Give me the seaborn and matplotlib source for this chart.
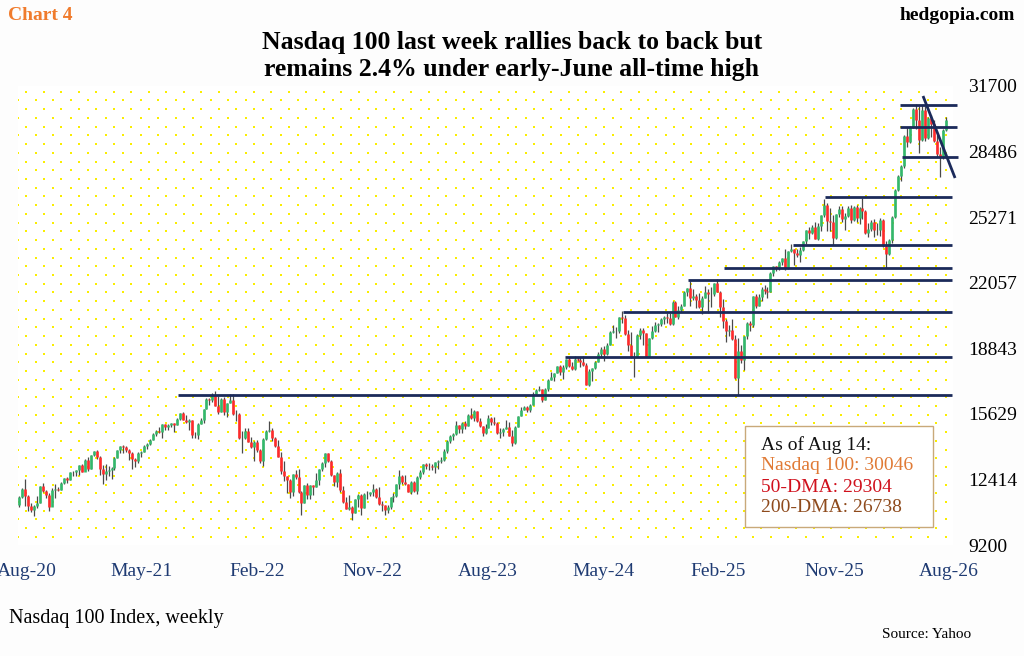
import numpy as np
import pandas as pd
import matplotlib
matplotlib.use("Agg")
import matplotlib.pyplot as plt
from matplotlib.patches import Rectangle
import seaborn as sns

# 周线数据: 2020-08-21 ~ 2026-08-14 (每周五收盘)
first_open = 11180

closes = [
    # 2020
    11530, 11940, 11620, 11090, 10940, 11130, 11250, 12090, 11850, 11670, 11050, 11900, 11940, 11880, 12260,
    12460, 12380, 12760, 12800,
    # 2021
    12890, 13100, 12800, 13370, 12920, 13590, 13810, 13530, 12910, 12670, 12820, 12870, 12960, 13480, 13850,
    14040, 13990, 13860, 13720, 13430, 13300, 13690, 13770, 14070, 14140, 14360, 14660, 14790, 14740, 15110,
    14960, 15100, 15160, 15100, 15380, 15650, 15350, 15230, 15310, 14570, 14580, 15140, 15340, 15850, 16350,
    16300, 16570, 16030, 15710, 16370, 15720, 16160, 16320,
    # 2022
    15600, 15610, 14440, 14450, 14800, 14260, 13990, 14250, 13840, 13300, 14420, 14810, 14860, 14450, 14050,
    13510, 12850, 12580, 12390, 11800, 12680, 12550, 11780, 11280, 12130, 11630, 12130, 12040, 12400, 12950,
    13210, 13700, 13330, 12610, 12270, 12750, 11880, 11310, 10970, 11040, 10760, 11450, 11670, 11000, 11700,
    11680, 11790, 11960, 11560, 11210, 11140, 10940,
    # 2023
    11040, 11540, 11620, 12170, 12570, 12300, 12190, 11800, 12300, 11830, 12520, 12770, 13180, 13060, 13080,
    13030, 13250, 13340, 13350, 13810, 14300, 14550, 14640, 15080, 14890, 15180, 15030, 15570, 15450, 15750,
    15270, 15020, 14690, 14940, 15430, 15210, 15200, 14700, 14720, 14890, 14990, 14540, 14180, 15000, 15530,
    15840, 15980, 15840, 16080, 16620, 16780, 16830,
    # 2024
    16310, 16830, 17310, 17420, 17640, 17960, 17690, 17940, 18300, 17960, 17810, 18340, 18250, 18150, 18000,
    17040, 17720, 17890, 18160, 18550, 18810, 18540, 19000, 19660, 19700, 19680, 20390, 20330, 19520, 19020,
    18440, 18410, 19510, 19720, 19570, 18420, 19360, 19690, 19980, 20030, 20270, 20360, 20350, 20030, 21120,
    20400, 20740, 20930, 21620, 21780, 21290, 21430,
    # 2025
    21210, 20850, 21320, 21590, 21480, 21490, 22030, 21610, 20880, 20200, 19700, 19750, 19280, 17400, 18690,
    18260, 19430, 20100, 19990, 21430, 20920, 21340, 21760, 21630, 21620, 22530, 22870, 22780, 23070, 23270,
    22760, 23600, 23710, 23500, 23420, 23650, 24090, 24630, 24500, 24790, 24220, 24820, 25360, 25860, 25060,
    25010, 24240, 25430, 25690, 25200, 25350, 25700,
    # 2026
    25150, 25780, 25250, 25700, 25550, 24500, 24700, 25050, 24620, 24650, 25150, 23850, 23450, 24150, 25300,
    26600, 27300, 27800, 29250, 28950, 29700, 30550, 30050, 29050, 30500, 29150, 30150, 29850, 29000, 28350,
    28200, 29550, 30046,
]

highs = [
    # 2020
    11600, 11980, 12440, 11630, 11250, 11180, 11600, 12110, 12250, 11900, 11740, 12000, 12190, 12020, 12280,
    12480, 12530, 12790, 12850,
    # 2021
    12900, 13130, 13150, 13420, 13500, 13600, 13820, 13880, 13550, 13100, 13170, 13070, 13030, 13510, 13860,
    14060, 14080, 14070, 13900, 13750, 13480, 13740, 13800, 14080, 14190, 14400, 14670, 14840, 14960, 15120,
    15140, 15130, 15180, 15170, 15420, 15660, 15700, 15560, 15380, 15330, 14740, 15170, 15440, 15870, 16400,
    16400, 16660, 16770, 16500, 16390, 16460, 16180, 16580,
    # 2022
    16600, 15800, 15650, 14800, 14920, 14950, 14500, 14300, 14350, 13930, 14430, 14830, 15260, 14930, 14500,
    14370, 13760, 13300, 12600, 12450, 12700, 12900, 12950, 11850, 12150, 12250, 12150, 12160, 12750, 12950,
    13270, 13700, 13720, 13350, 12650, 12760, 12940, 12100, 11570, 11640, 11100, 11460, 11690, 11680, 11750,
    11830, 11810, 12170, 11970, 12040, 11380, 11150,
    # 2023
    11150, 11560, 11750, 12200, 12880, 12620, 12640, 12200, 12320, 12360, 12590, 12860, 13190, 13210, 13200,
    13170, 13260, 13350, 13490, 13900, 14340, 14590, 14680, 15280, 15080, 15230, 15260, 15620, 15930, 15800,
    15760, 15450, 15050, 15140, 15580, 15460, 15470, 15250, 14920, 14950, 15310, 15220, 14830, 15010, 15540,
    15950, 16000, 16010, 16100, 16680, 16830, 16970,
    # 2024
    16840, 16890, 17330, 17660, 17650, 17980, 18010, 18040, 18310, 18420, 18150, 18460, 18420, 18410, 18460,
    18100, 17840, 17900, 18240, 18680, 18900, 18950, 19080, 19680, 19980, 19870, 20400, 20690, 20460, 19740,
    19630, 18640, 19520, 19820, 19820, 19600, 19370, 19930, 20110, 20100, 20320, 20420, 20550, 20550, 21150,
    21140, 20900, 20990, 21650, 21800, 22130, 21770,
    # 2025
    21500, 21550, 21400, 21910, 21760, 21850, 22050, 22220, 21630, 21270, 20270, 20000, 20290, 19500, 19350,
    19000, 19460, 20110, 20170, 21430, 21500, 21500, 21830, 21930, 21830, 22560, 22880, 22900, 23100, 23290,
    23700, 23620, 23960, 23720, 23700, 23800, 24100, 24640, 24780, 24900, 25050, 25000, 25380, 26180, 25950,
    25700, 25400, 25450, 25800, 25830, 25480, 25800,
    # 2026
    25850, 25800, 25880, 25780, 26200, 25600, 25000, 25150, 25200, 25000, 25250, 25200, 24100, 24200, 25350,
    26650, 27350, 27850, 29300, 29700, 29750, 30600, 30800, 30700, 30750, 30700, 30200, 30300, 30050, 29300,
    28700, 29600, 30200,
]

lows = [
    # 2020
    11050, 11480, 11100, 10850, 10800, 10630, 11000, 11250, 11800, 11500, 10860, 11100, 11500, 11830, 11900,
    12200, 12230, 12390, 12600,
    # 2021
    12600, 12650, 12790, 12900, 12840, 12920, 13560, 13400, 12650, 12210, 12390, 12600, 12420, 12900, 13450,
    13730, 13700, 13780, 13350, 12940, 13000, 13200, 13500, 13760, 13900, 14100, 14350, 14530, 14700, 14460,
    14830, 14850, 15000, 14720, 15100, 15350, 15340, 15200, 14850, 14450, 14450, 14400, 15140, 15200, 15850,
    16060, 16200, 16000, 15600, 15710, 15560, 15480, 16150,
    # 2022
    15550, 15300, 14420, 13720, 14400, 14230, 13950, 13320, 13750, 13240, 13050, 14350, 14750, 14300, 14000,
    13500, 12700, 12350, 11760, 11500, 11600, 12450, 11770, 10680, 11250, 11450, 11450, 11650, 12040, 12150,
    12850, 13000, 13290, 12600, 12100, 12050, 11800, 11270, 10950, 10900, 10440, 10750, 11050, 10670, 11000,
    11470, 11580, 11600, 11500, 11160, 10880, 10680,
    # 2023
    10750, 10950, 11300, 11550, 11950, 12200, 12150, 11780, 11700, 11820, 11700, 12450, 12680, 12930, 12880,
    12900, 12720, 12950, 13200, 13300, 13700, 14200, 14350, 14600, 14700, 14700, 14880, 15020, 15400, 15300,
    15220, 14980, 14560, 14620, 14930, 15080, 15100, 14640, 14460, 14550, 14880, 14530, 14060, 14150, 14970,
    15520, 15840, 15710, 15700, 16050, 16610, 16760,
    # 2024
    16200, 16300, 16730, 17310, 17230, 17620, 17540, 17330, 17850, 17930, 17780, 17800, 18200, 17920, 17970,
    17020, 17000, 17250, 17830, 18150, 18410, 18200, 18500, 18980, 19600, 19350, 19600, 20070, 19480, 18700,
    18350, 17430, 18400, 19320, 19020, 18400, 18400, 19300, 19650, 19640, 19950, 20050, 20100, 19960, 20000,
    20380, 20290, 20640, 20920, 21400, 20900, 21200,
    # 2025
    20800, 20800, 20540, 21320, 20550, 20850, 21400, 21580, 20400, 19860, 19150, 19450, 19250, 17350, 16540,
    18100, 17800, 19300, 19700, 19900, 20830, 20900, 21150, 21500, 21300, 21600, 22400, 22630, 22700, 22950,
    22700, 22750, 23550, 22920, 23300, 23080, 23600, 23950, 24220, 24450, 24200, 24150, 24600, 25300, 24600,
    24600, 23900, 24200, 25300, 25050, 24650, 25300,
    # 2026
    25000, 25100, 25050, 24950, 25200, 24450, 24300, 24600, 24300, 24400, 24350, 23800, 22800, 23400, 24000,
    25250, 26550, 27050, 27700, 28700, 28900, 29650, 29600, 28400, 29000, 29000, 29100, 29200, 28950, 28200,
    27250, 28100, 29500,
]

# 支撑/阻力水平线 (价位, 起点周序号, 终点周序号)
level_values = [16553, 18416, 20620, 22190, 22780, 23906, 26260, 28220, 29690, 30780]
level_starts = [53.4, 183.8, 203.3, 225.2, 237.4, 260.6, 271.4, 297.3, 296.7, 296.7]
level_ends = [314.2, 314.2, 314.2, 314.2, 314.2, 314.2, 314.2, 316.2, 315.9, 315.9]

# 下降趋势线
trend_x = [304.4, 315.2]
trend_y = [31210, 27190]

x_tick_labels = ['Aug-20', 'May-21', 'Feb-22', 'Nov-22', 'Aug-23', 'May-24', 'Feb-25', 'Nov-25', 'Aug-26']
y_ticks = [9200, 12414, 15629, 18843, 22057, 25271, 28486, 31700]

legend_lines = ['As of Aug 14:', 'Nasdaq 100: 30046', '50-DMA: 29304', '200-DMA: 26738']
legend_colors = ['#111111', '#E07A35', '#D0101C', '#8E4A1C']

assert len(closes) == len(highs) == len(lows), (len(closes), len(highs), len(lows))

df = pd.DataFrame({'close': closes, 'high': highs, 'low': lows})
df['open'] = df['close'].shift(1).fillna(first_open)
df['x'] = np.arange(len(df))
df['up'] = df['close'] >= df['open']

sns.set_theme(style='white')
plt.rcParams['font.family'] = ['Liberation Serif', 'DejaVu Serif']

W, H = 1024, 656
fig = plt.figure(figsize=(W / 100, H / 100), dpi=100)
fig.patch.set_facecolor('#FDFDFD')

ax_l, ax_t, ax_w, ax_h = 18, 86, 935, 459
ax = fig.add_axes([ax_l / W, 1 - (ax_t + ax_h) / H, ax_w / W, ax_h / H])
ax.set_facecolor('white')

# 黄色点阵背景
dot_x, dot_y = [], []
for r, yy in enumerate(np.arange(5.7, ax_h, 8.73)):
    off = 8.4 if r % 2 == 0 else 0.3
    for xx in np.arange(off, ax_w, 17.5):
        dot_x.append(xx / ax_w)
        dot_y.append(1 - yy / ax_h)
ax.scatter(dot_x, dot_y, transform=ax.transAxes, s=2.4, marker='s', color='#FAEE00', linewidths=0, zorder=0)

# K线: 影线 + 实体
ax.vlines(df['x'], df['low'], df['high'], color='#4A4A4A', lw=0.9, zorder=2)
body_lo = df[['open', 'close']].min(axis=1)
body_hi = df[['open', 'close']].max(axis=1)
body_colors = np.where(df['up'], '#33B86B', '#FF2B2B')
ax.vlines(df['x'], body_lo, body_hi, color=body_colors, lw=1.9, zorder=3)

navy = '#1B2A5A'
ax.hlines(level_values, level_starts, level_ends, color=navy, lw=2.0, zorder=4, clip_on=False)
ax.plot(trend_x, trend_y, color=navy, lw=2.0, zorder=4, clip_on=False, solid_capstyle='butt')

ax.set_xlim(-0.5, 314.5)
ax.set_ylim(9200, 31700)
ax.set_xticks(2.4 + 38.85 * np.arange(len(x_tick_labels)), x_tick_labels)
ax.set_yticks(y_ticks, [str(v) for v in y_ticks])
ax.yaxis.tick_right()
ax.tick_params(axis='y', length=0, pad=11, labelsize=14, labelcolor='black')
ax.tick_params(axis='x', length=0, pad=13, labelsize=14, labelcolor='#1F3B73')
for s in ax.spines.values():
    s.set_visible(False)
ax.grid(False)

# 右下角信息框
ax.add_patch(Rectangle((745 / W, 1 - 527 / H), 188 / W, 101 / H, transform=fig.transFigure,
                       facecolor='white', edgecolor='#C9A97A', lw=1.0, zorder=6, clip_on=False))
for i, (txt, col) in enumerate(zip(legend_lines, legend_colors)):
    fig.text(761 / W, 1 - (445 + 21 * i) / H, txt, color=col, fontsize=14, va='center', ha='left', zorder=7)

fig.text(0.5, 1 - 56 / H, 'Nasdaq 100 last week rallies back to back but\nremains 2.4% under early-June all-time high',
         ha='center', va='center', fontsize=18.5, fontweight='bold', linespacing=1.25, color='black')
fig.text(8 / W, 1 - 15 / H, 'Chart 4', ha='left', va='center', fontsize=14, fontweight='bold', color='#F07B2C')
fig.text(1015 / W, 1 - 15 / H, 'hedgopia.com', ha='right', va='center', fontsize=14, fontweight='bold', color='black')
fig.text(9 / W, 1 - 618 / H, 'Nasdaq 100 Index, weekly', ha='left', va='center', fontsize=14.5, color='black')
fig.text(971 / W, 1 - 634 / H, 'Source: Yahoo', ha='right', va='center', fontsize=11, color='black')

fig.savefig('out.png', dpi=100, facecolor=fig.get_facecolor())
